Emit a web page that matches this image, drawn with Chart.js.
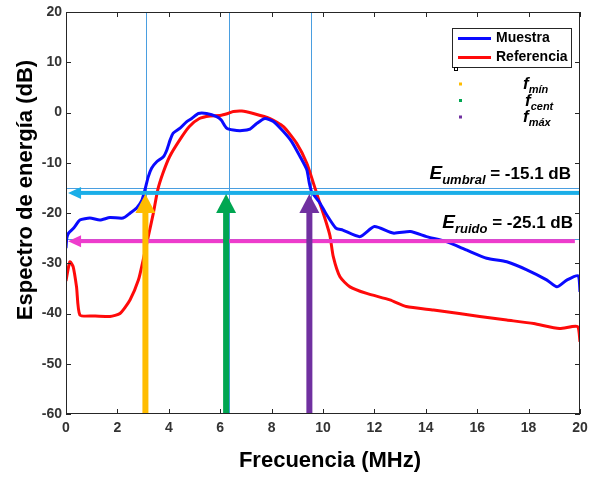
<!DOCTYPE html>
<html><head><meta charset="utf-8">
<script src="https://cdn.jsdelivr.net/npm/chart.js@4/dist/chart.umd.min.js"></script>
<style>html,body{margin:0;padding:0;background:#fff}</style>
</head><body>
<canvas id="c" width="590" height="477"></canvas>
<script>
// ---- data ----
const muestraFreq = [0, 0.03, 0.1, 0.3, 0.54, 0.93, 1.32, 1.71, 2.22, 2.5, 2.75, 2.95, 3.07, 3.2, 3.33, 3.53, 3.79, 3.92, 4.05, 4.17, 4.44, 4.7, 4.89, 5.15, 5.47, 5.86, 6.04, 6.25, 6.51, 6.85, 7.16, 7.42, 7.74, 8.07, 8.46, 8.78, 9.11, 9.37, 9.47, 9.56, 9.88, 10.1, 10.5, 10.77, 11.44, 12.0, 12.73, 13.4, 14.03, 14.8, 15.6, 16.37, 17.15, 17.93, 18.7, 19.1, 19.5, 19.93, 20];
const muestraDb   = [-27, -25, -24, -23, -21.4, -21, -21.4, -20.9, -21, -20, -19, -17.5, -15.4, -12.8, -11.1, -9.8, -8.8, -7.5, -5.5, -4.1, -3.1, -1.8, -1.2, -0.2, -0.2, -0.8, -1.5, -3.1, -3.5, -3.6, -3.3, -2.2, -1.2, -1.8, -3.8, -5.8, -8.8, -11.4, -14.1, -15.8, -18, -20, -23, -23.4, -24.7, -22.7, -24, -23.7, -24.7, -25.7, -27.4, -29, -29.7, -31.3, -33.3, -34.7, -33.3, -32.5, -35.7];
const referenciaFreq = [0, 0.15, 0.28, 0.41, 0.54, 1.06, 1.71, 2.1, 2.49, 2.82, 3.0, 3.2, 3.4, 3.57, 3.77, 4.03, 4.42, 4.8, 5.19, 5.6, 5.99, 6.3, 6.51, 6.84, 7.29, 7.94, 8.46, 8.97, 9.37, 9.63, 9.88, 10.1, 10.27, 10.4, 10.66, 11.05, 11.7, 12.6, 13.24, 14.3, 15.3, 16.1, 17.15, 18.2, 19.2, 19.9, 20];
const referenciaDb   = [-33.5, -29.7, -30.7, -34.7, -40.3, -40.5, -40.6, -40, -37.3, -33.3, -29.4, -24.7, -20, -15.4, -12.1, -8.8, -5.5, -2.8, -1.2, -0.7, -0.6, -0.2, 0.2, 0.3, -0.2, -1.2, -2.8, -6.1, -10.1, -14.1, -18.1, -21.5, -24.5, -28.7, -32.7, -34.7, -36, -37.3, -38.6, -39.3, -40, -40.6, -41.3, -42, -43, -42.6, -45.6];
const seriesNames = ['Muestra', 'Referencia'];
const xTicks = [0, 2, 4, 6, 8, 10, 12, 14, 16, 18, 20];
const yTicks = [20, 10, 0, -10, -20, -30, -40, -50, -60];
const lineFreqs = [3.11, 6.33, 9.52];       // thin vertical guide lines
const arrowFreqs = [3.09, 6.23, 9.47];      // f_min, f_cent, f_max arrows
const freqSubs = ['mín', 'cent', 'máx'];
const umbralDb = -15.1;
const ruidoDb = -25.1;
const umbralArrowDb = -16.0;
const ruidoArrowDb = -25.6;
const arrowTipDb = -16.2;

const BLUE = '#0a0aff', RED = '#ff0a0a';
const ARROW_COLORS = ['#ffbc00', '#00a651', '#7030a0'];
const CYAN = '#1aaee8', MAGENTA = '#ee3ccc', GUIDE = '#4a9ee0';
const FONT = '"Liberation Sans", Arial, Helvetica, sans-serif';

function richText(ctx, parts, xPos, baseline, alignLeft) {
  // parts: [text, size, italic, dy]
  let total = 0;
  parts.forEach(p => { ctx.font = (p[2] ? 'italic ' : '') + 'bold ' + p[1] + 'px ' + FONT; total += ctx.measureText(p[0]).width; });
  let x = alignLeft ? xPos : xPos - total;
  ctx.textAlign = 'left'; ctx.textBaseline = 'alphabetic'; ctx.fillStyle = '#000';
  parts.forEach(p => { ctx.font = (p[2] ? 'italic ' : '') + 'bold ' + p[1] + 'px ' + FONT; ctx.fillText(p[0], x, baseline + p[3]); x += ctx.measureText(p[0]).width; });
}

const overlay = {
  id: 'overlay',
  beforeDatasetsDraw(chart) {
    const {ctx, chartArea: a, scales: {x, y}} = chart;
    ctx.save();
    ctx.strokeStyle = GUIDE; ctx.lineWidth = 1;
    lineFreqs.forEach(f => { const px = Math.round(x.getPixelForValue(f)) + 0.5; ctx.beginPath(); ctx.moveTo(px, a.top); ctx.lineTo(px, a.bottom); ctx.stroke(); });
    [umbralDb, ruidoDb].forEach(d => { const py = Math.round(y.getPixelForValue(d)) + 0.5; ctx.beginPath(); ctx.moveTo(a.left, py); ctx.lineTo(a.right, py); ctx.stroke(); });
    ctx.restore();
  },
  afterDatasetsDraw(chart) {
    const {ctx, chartArea: a, scales: {x, y}} = chart;
    ctx.save();
    // horizontal arrows
    const hArrow = (dB, xEndVal, color) => {
      const py = y.getPixelForValue(dB), tip = x.getPixelForValue(0.08), end = x.getPixelForValue(xEndVal);
      const hl = 13, hh = 6, w = 4;
      ctx.fillStyle = color;
      ctx.fillRect(tip + hl - 1, py - w / 2, end - tip - hl + 1, w);
      ctx.beginPath(); ctx.moveTo(tip, py); ctx.lineTo(tip + hl, py - hh); ctx.lineTo(tip + hl, py + hh); ctx.closePath(); ctx.fill();
    };
    hArrow(umbralArrowDb, 20, CYAN);
    hArrow(ruidoArrowDb, 19.8, MAGENTA);
    // vertical arrows
    arrowFreqs.forEach((f, i) => {
      const px = x.getPixelForValue(f), tip = y.getPixelForValue(arrowTipDb), bot = y.getPixelForValue(-60);
      const hl = 19, hh = 10, w = 6;
      ctx.fillStyle = ARROW_COLORS[i];
      ctx.fillRect(px - w / 2, tip + hl - 1, w, bot - tip - hl + 1);
      ctx.beginPath(); ctx.moveTo(px, tip); ctx.lineTo(px - hh, tip + hl); ctx.lineTo(px + hh, tip + hl); ctx.closePath(); ctx.fill();
    });
    // frame + inward ticks
    ctx.strokeStyle = '#262626'; ctx.lineWidth = 1;
    ctx.strokeRect(a.left + 0.5, a.top + 0.5, a.right - a.left - 1, a.bottom - a.top - 1);
    ctx.beginPath();
    xTicks.forEach(t => { const px = Math.round(x.getPixelForValue(t)) + 0.5; ctx.moveTo(px, a.bottom); ctx.lineTo(px, a.bottom - 5); ctx.moveTo(px, a.top); ctx.lineTo(px, a.top + 5); });
    yTicks.forEach(t => { const py = Math.round(y.getPixelForValue(t)) + 0.5; ctx.moveTo(a.left, py); ctx.lineTo(a.left + 5, py); ctx.moveTo(a.right, py); ctx.lineTo(a.right - 5, py); });
    ctx.stroke();
    // legend
    const lx = 452, ly = 28, lw = 119, lh = 39;
    ctx.fillStyle = '#fff'; ctx.fillRect(lx, ly, lw, lh);
    ctx.strokeStyle = '#262626'; ctx.strokeRect(lx + 0.5, ly + 0.5, lw, lh);
    [[BLUE, 38.5], [RED, 57.5]].forEach((c, i) => {
      ctx.strokeStyle = c[0]; ctx.lineWidth = 3;
      ctx.beginPath(); ctx.moveTo(lx + 6, c[1]); ctx.lineTo(lx + 39, c[1]); ctx.stroke();
      ctx.fillStyle = '#000'; ctx.font = 'bold 14px ' + FONT; ctx.textAlign = 'left'; ctx.textBaseline = 'middle';
      ctx.fillText(seriesNames[i], lx + 44, c[1]);
    });
    ctx.lineWidth = 1; ctx.strokeStyle = '#000'; ctx.strokeRect(454.5, 67.5, 3, 3);
    // f labels
    [84, 100.5, 117].forEach((py, i) => {
      ctx.fillStyle = ARROW_COLORS[i]; ctx.fillRect(459, py - 1.5, 3, 3);
      richText(ctx, [['f', 17, true, 0], [freqSubs[i], 11, true, 4]], i === 1 ? 525 : 523, py + 5, true);
    });
    // annotations
    richText(ctx, [['E', 19, true, 0], ['umbral', 13, true, 5], [' = -15.1 dB', 17, false, 0]], 571, 179);
    richText(ctx, [['E', 19, true, 0], ['ruido', 13, true, 5], [' = -25.1 dB', 17, false, 0]], 573, 228);
    // axis titles
    ctx.fillStyle = '#000'; ctx.font = 'bold 22px ' + FONT; ctx.textAlign = 'center'; ctx.textBaseline = 'middle';
    ctx.fillText('Frecuencia (MHz)', 330, 461);
    ctx.translate(26, 190); ctx.rotate(-Math.PI / 2);
    ctx.fillText('Espectro de energía (dB)', 0, 0);
    ctx.restore();
  }
};

new Chart(document.getElementById('c'), {
  type: 'line',
  data: {
    datasets: [
      { label: seriesNames[0], data: muestraFreq.map((f, i) => ({x: f, y: muestraDb[i]})), borderColor: BLUE, borderWidth: 3, pointRadius: 0, tension: 0.2 },
      { label: seriesNames[1], data: referenciaFreq.map((f, i) => ({x: f, y: referenciaDb[i]})), borderColor: RED, borderWidth: 3, pointRadius: 0, tension: 0.2 }
    ]
  },
  options: {
    responsive: false, animation: false, devicePixelRatio: 1,
    layout: { padding: { top: 12, right: 10, left: 0, bottom: 0 } },
    plugins: { legend: { display: false }, tooltip: { enabled: false } },
    scales: {
      x: { type: 'linear', min: 0, max: 20, afterBuildTicks: s => { s.ticks = xTicks.map(v => ({value: v})); },
           ticks: { font: { family: FONT, size: 14, weight: 'bold' }, color: '#333', padding: 6, maxRotation: 0 },
           grid: { display: false, drawTicks: false }, border: { display: false },
           afterFit: s => { s.height = 63; s.paddingLeft = 0; s.paddingRight = 0; } },
      y: { type: 'linear', min: -60, max: 20, afterBuildTicks: s => { s.ticks = yTicks.map(v => ({value: v})); },
           ticks: { font: { family: FONT, size: 14, weight: 'bold' }, color: '#333', padding: 4 },
           grid: { display: false, drawTicks: false }, border: { display: false },
           afterFit: s => { s.width = 66; s.paddingTop = 0; s.paddingBottom = 0; } }
    }
  },
  plugins: [overlay]
});
</script>
</body></html>
